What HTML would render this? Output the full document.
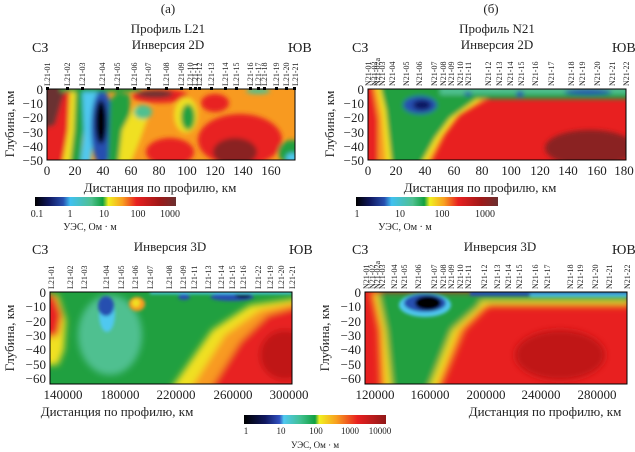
<!DOCTYPE html>
<html><head><meta charset="utf-8"><style>
html,body{margin:0;padding:0;background:#fff}
svg{display:block;font-family:"Liberation Serif",serif}
</style></head><body>
<svg width="635" height="452" viewBox="0 0 635 452" xmlns="http://www.w3.org/2000/svg">
<defs>
<filter id="b3" x="-50%" y="-50%" width="200%" height="200%"><feGaussianBlur stdDeviation="2.5"/></filter>
<filter id="b2" x="-50%" y="-50%" width="200%" height="200%"><feGaussianBlur stdDeviation="1.5"/></filter>
<filter id="b4" x="-50%" y="-50%" width="200%" height="200%"><feGaussianBlur stdDeviation="3.5"/></filter>
<clipPath id="ca"><rect x="47" y="89" width="248" height="71"/></clipPath>
<clipPath id="cb"><rect x="368" y="89" width="258" height="71"/></clipPath>
<clipPath id="cc"><rect x="50" y="292" width="242" height="92"/></clipPath>
<clipPath id="cd"><rect x="365" y="292" width="262" height="92"/></clipPath>
<linearGradient id="g2a"><stop offset="0" stop-color="#000"/><stop offset=".1" stop-color="#101860"/><stop offset=".2" stop-color="#2850b0"/><stop offset=".25" stop-color="#40c0f0"/><stop offset=".4" stop-color="#50c090"/><stop offset=".48" stop-color="#10a040"/><stop offset=".52" stop-color="#f0f020"/><stop offset=".62" stop-color="#f8a020"/><stop offset=".72" stop-color="#e82020"/><stop offset=".88" stop-color="#a01818"/><stop offset="1" stop-color="#6a3030"/></linearGradient>
<linearGradient id="g3"><stop offset="0" stop-color="#000"/><stop offset=".15" stop-color="#101860"/><stop offset=".25" stop-color="#3050c0"/><stop offset=".28" stop-color="#50c8f0"/><stop offset=".4" stop-color="#40c090"/><stop offset=".5" stop-color="#10a040"/><stop offset=".53" stop-color="#f0f020"/><stop offset=".65" stop-color="#f8a020"/><stop offset=".8" stop-color="#e82020"/><stop offset="1" stop-color="#901818"/></linearGradient>
</defs>

<!-- ===== Panel a (2D L21) ===== -->
<g clip-path="url(#ca)">
<rect x="40" y="80" width="270" height="90" fill="#f89a20"/>
<g filter="url(#b3)">
<polygon points="40,85 75,85 72,100 70,120 75,170 40,170" fill="#e82020"/>
<polygon points="40,85 68,85 62,100 55,125 40,130" fill="#6a3030"/>
<polygon points="70,85 84,85 80,110 75,135 72,165 62,165 68,130" fill="#f0e020"/>
<polygon points="76,85 90,85 88,110 82,140 80,165 70,165 74,130" fill="#20a040"/>
<polygon points="82,88 98,88 96,120 90,165 80,165 84,130" fill="#50c8f0"/>
<ellipse cx="102" cy="128" rx="11" ry="38" fill="#2850b0"/>
<ellipse cx="101" cy="122" rx="6" ry="22" fill="#000"/>
<polygon points="110,100 118,92 130,95 130,120 125,165 108,165" fill="#20a040"/>
<polygon points="122,130 135,105 150,112 140,140 130,165 118,165" fill="#f0e020"/>
<ellipse cx="143" cy="112" rx="9" ry="7" fill="#50c090"/>
<rect x="60" y="86" width="80" height="6" fill="#20a040"/>
<ellipse cx="160" cy="96" rx="28" ry="7" fill="#e82020"/>
<ellipse cx="155" cy="94" rx="18" ry="4" fill="#6a3030"/>
<ellipse cx="170" cy="152" rx="24" ry="14" fill="#e82020"/>
<ellipse cx="186" cy="115" rx="12" ry="18" fill="#f0e020"/>
<ellipse cx="188" cy="117" rx="7" ry="13" fill="#20a040"/>
<ellipse cx="215" cy="103" rx="14" ry="9" fill="#e82020"/>
<ellipse cx="240" cy="140" rx="42" ry="26" fill="#e82020"/>
<ellipse cx="235" cy="152" rx="22" ry="14" fill="#8a2020"/>
<ellipse cx="292" cy="152" rx="14" ry="12" fill="#20a040"/>
<ellipse cx="292" cy="158" rx="6" ry="5" fill="#50c8f0"/>
<ellipse cx="258" cy="91" rx="12" ry="3" fill="#50c090"/>
</g>
</g>
<rect x="47" y="89" width="248" height="71" fill="none" stroke="#000" stroke-width="1"/>

<!-- ===== Panel b (2D N21) ===== -->
<g clip-path="url(#cb)">
<rect x="360" y="80" width="270" height="90" fill="#e82020"/>
<g filter="url(#b3)">
<polygon points="360,85 372,85 380,110 385,165 360,165" fill="#e82020"/>
<polygon points="372,85 500,85 490,98 460,115 445,135 430,165 378,165 378,120" fill="#f89a20"/>
<polygon points="376,85 495,85 480,100 455,118 440,138 425,165 386,165 382,115" fill="#f0e020"/>
<polygon points="380,85 490,85 475,100 450,118 435,138 420,165 392,165 386,110" fill="#20a040"/>
<ellipse cx="420" cy="105" rx="17" ry="9" fill="#2850b0"/>
<ellipse cx="422" cy="105" rx="9" ry="5" fill="#101860"/>
<rect x="440" y="86" width="190" height="9" fill="#50c090"/>
<rect x="470" y="94" width="160" height="5" fill="#20a040"/>
<ellipse cx="590" cy="148" rx="45" ry="18" fill="#8a2020"/>
<ellipse cx="588" cy="92" rx="24" ry="3" fill="#2850b0"/>
<ellipse cx="520" cy="94" rx="4" ry="3" fill="#2850b0"/>
<ellipse cx="468" cy="94" rx="4" ry="2" fill="#2850b0"/>
</g>
</g>
<rect x="368" y="89" width="258" height="71" fill="none" stroke="#000" stroke-width="1"/>

<!-- ===== Panel c (3D L21) ===== -->
<g clip-path="url(#cc)">
<rect x="40" y="280" width="260" height="110" fill="#20a040"/>
<g filter="url(#b4)">
<ellipse cx="110" cy="335" rx="32" ry="40" fill="#50c090"/>
<polygon points="170,390 212,330 250,305 300,298 300,390" fill="#f0e020"/>
<polygon points="190,390 225,335 260,310 300,302 300,390" fill="#f89a20"/>
<polygon points="210,390 240,342 268,315 300,306 300,390" fill="#e82020"/>
<ellipse cx="285" cy="355" rx="25" ry="25" fill="#c01818"/>
<polygon points="40,292 58,295 66,320 64,350 58,365 40,365" fill="#f0e020"/>
<polygon points="40,292 55,296 62,315 58,335 40,340" fill="#e82020"/>
</g>
<g filter="url(#b2)">
<ellipse cx="107" cy="314" rx="8" ry="18" fill="#50c8f0"/>
<ellipse cx="106" cy="306" rx="8" ry="10" fill="#2850b0"/>
<ellipse cx="137" cy="304" rx="8" ry="7" fill="#f89a20"/>
<ellipse cx="136" cy="303" rx="4" ry="4" fill="#f0e020"/>
<ellipse cx="184" cy="297" rx="6" ry="3" fill="#2850b0"/>
<ellipse cx="232" cy="297" rx="22" ry="4" fill="#2850b0"/>
<ellipse cx="243" cy="295" rx="8" ry="3" fill="#000"/>
<rect x="150" y="291" width="142" height="3" fill="#50c8f0"/>
</g>
</g>
<rect x="50" y="292" width="242" height="92" fill="none" stroke="#000" stroke-width="1"/>

<!-- ===== Panel d (3D N21) ===== -->
<g clip-path="url(#cd)">
<rect x="360" y="280" width="270" height="110" fill="#e82020"/>
<g filter="url(#b4)">
<polygon points="370,292 500,292 490,305 465,330 440,390 380,390 378,330" fill="#f89a20"/>
<polygon points="374,292 498,292 485,305 458,330 435,390 386,390 382,330" fill="#f0e020"/>
<polygon points="378,292 495,292 480,305 452,330 428,390 392,390 386,330" fill="#20a040"/>
<rect x="480" y="288" width="150" height="14" fill="#20a040"/>
<rect x="480" y="301" width="150" height="5" fill="#f0e020"/>
<ellipse cx="560" cy="355" rx="45" ry="25" fill="#c01818"/>
</g>
<g filter="url(#b2)">
<ellipse cx="425" cy="305" rx="26" ry="12" fill="#50c8f0"/>
<ellipse cx="425" cy="303" rx="21" ry="9" fill="#2850b0"/>
<ellipse cx="428" cy="303" rx="13" ry="7" fill="#000"/>
<rect x="470" y="291" width="160" height="5" fill="#2850b0"/>
<rect x="530" y="294" width="100" height="3" fill="#50c8f0"/>
</g>
</g>
<rect x="365" y="292" width="262" height="92" fill="none" stroke="#000" stroke-width="1"/>

<!-- ===== Text ===== -->
<g font-size="13" fill="#222">
<text x="168" y="13" text-anchor="middle">(а)</text>
<text x="168" y="33" text-anchor="middle">Профиль L21</text>
<text x="168" y="49" text-anchor="middle">Инверсия 2D</text>
<text x="32" y="52" font-size="14">СЗ</text>
<text x="288" y="52" font-size="14">ЮВ</text>

<text x="491" y="13" text-anchor="middle">(б)</text>
<text x="497" y="33" text-anchor="middle">Профиль N21</text>
<text x="497" y="49" text-anchor="middle">Инверсия 2D</text>
<text x="352" y="52" font-size="14">СЗ</text>
<text x="612" y="52" font-size="14">ЮВ</text>

<text x="170" y="251" text-anchor="middle">Инверсия 3D</text>
<text x="32" y="254" font-size="14">СЗ</text>
<text x="289" y="254" font-size="14">ЮВ</text>
<text x="500" y="251" text-anchor="middle">Инверсия 3D</text>
<text x="352" y="254" font-size="14">СЗ</text>
<text x="612" y="254" font-size="14">ЮВ</text>
</g>

<!-- axes a -->
<g font-size="13" fill="#222">
<g text-anchor="end">
<text x="43" y="94">0</text><text x="43" y="108">−10</text><text x="43" y="122">−20</text><text x="43" y="137">−30</text><text x="43" y="151">−40</text><text x="43" y="165">−50</text>
</g>
<g text-anchor="middle">
<text x="47" y="175">0</text><text x="75" y="175">20</text><text x="103" y="175">40</text><text x="131" y="175">60</text><text x="159" y="175">80</text><text x="187" y="175">100</text><text x="215" y="175">120</text><text x="243" y="175">140</text><text x="271" y="175">160</text>
</g>
<text x="160" y="192" text-anchor="middle">Дистанция по профилю, км</text>
<text transform="translate(14,124) rotate(-90)" text-anchor="middle">Глубина, км</text>
</g>
<!-- axes b -->
<g font-size="13" fill="#222">
<g text-anchor="end">
<text x="364" y="94">0</text><text x="364" y="108">−10</text><text x="364" y="122">−20</text><text x="364" y="137">−30</text><text x="364" y="151">−40</text><text x="364" y="165">−50</text>
</g>
<g text-anchor="middle">
<text x="368" y="175">0</text><text x="396" y="175">20</text><text x="425" y="175">40</text><text x="454" y="175">60</text><text x="482" y="175">80</text><text x="511" y="175">100</text><text x="540" y="175">120</text><text x="568" y="175">140</text><text x="597" y="175">160</text><text x="624" y="175">180</text>
</g>
<text x="480" y="192" text-anchor="middle">Дистанция по профилю, км</text>
<text transform="translate(334,124) rotate(-90)" text-anchor="middle">Глубина, км</text>
</g>
<!-- axes c -->
<g font-size="13" fill="#222">
<g text-anchor="end">
<text x="46" y="297">0</text><text x="46" y="311">−10</text><text x="46" y="326">−20</text><text x="46" y="340">−30</text><text x="46" y="354">−40</text><text x="46" y="369">−50</text><text x="46" y="383">−60</text>
</g>
<g text-anchor="middle">
<text x="63" y="399">140000</text><text x="120" y="399">180000</text><text x="176" y="399">220000</text><text x="233" y="399">260000</text><text x="289" y="399">300000</text>
</g>
<text x="117" y="416" text-anchor="middle">Дистанция по профилю, км</text>
<text transform="translate(14,338) rotate(-90)" text-anchor="middle">Глубина, км</text>
</g>
<!-- axes d -->
<g font-size="13" fill="#222">
<g text-anchor="end">
<text x="361" y="297">0</text><text x="361" y="311">−10</text><text x="361" y="326">−20</text><text x="361" y="340">−30</text><text x="361" y="354">−40</text><text x="361" y="369">−50</text><text x="361" y="383">−60</text>
</g>
<g text-anchor="middle">
<text x="375" y="399">120000</text><text x="430" y="399">160000</text><text x="486" y="399">200000</text><text x="541" y="399">240000</text><text x="597" y="399">280000</text>
</g>
<text x="545" y="416" text-anchor="middle">Дистанция по профилю, км</text>
<text transform="translate(329,338) rotate(-90)" text-anchor="middle">Глубина, км</text>
</g>

<!-- colorbars -->
<rect x="35" y="197" width="141" height="9" fill="url(#g2a)"/>
<g font-size="10" fill="#222" text-anchor="middle">
<text x="37" y="217">0.1</text><text x="70" y="217">1</text><text x="104" y="217">10</text><text x="138" y="217">100</text><text x="170" y="217">1000</text>
<text x="90" y="230">УЭС, Ом · м</text>
</g>
<rect x="356" y="197" width="142" height="9" fill="url(#g2a)"/>
<g font-size="10" fill="#222" text-anchor="middle">
<text x="357" y="217">1</text><text x="400" y="217">10</text><text x="442" y="217">100</text><text x="485" y="217">1000</text>
<text x="405" y="230">УЭС, Ом · м</text>
</g>
<rect x="244" y="415" width="142" height="9" fill="url(#g3)"/>
<g font-size="9" fill="#222" text-anchor="middle">
<text x="246" y="434">1</text><text x="281" y="434">10</text><text x="316" y="434">100</text><text x="350" y="434">1000</text><text x="380" y="434">10000</text>
<text x="315" y="448">УЭС, Ом · м</text>
</g>

<!-- markers -->
<g fill="#000">
<rect x="46" y="87" width="3" height="3"/><rect x="66" y="87" width="3" height="3"/><rect x="81" y="87" width="3" height="3"/><rect x="101" y="87" width="3" height="3"/><rect x="116" y="87" width="3" height="3"/><rect x="133" y="87" width="3" height="3"/><rect x="147" y="87" width="3" height="3"/><rect x="165" y="87" width="3" height="3"/><rect x="180" y="87" width="3" height="3"/><rect x="189" y="87" width="3" height="3"/><rect x="194" y="87" width="3" height="3"/><rect x="198" y="87" width="3" height="3"/><rect x="210" y="87" width="3" height="3"/><rect x="224" y="87" width="3" height="3"/><rect x="235" y="87" width="3" height="3"/><rect x="249" y="87" width="3" height="3"/><rect x="257" y="87" width="3" height="3"/><rect x="263" y="87" width="3" height="3"/><rect x="275" y="87" width="3" height="3"/><rect x="285" y="87" width="3" height="3"/><rect x="293" y="87" width="3" height="3"/>
</g>

<!-- station labels -->
<g font-size="8" fill="#222">
<text transform="translate(50,86) rotate(-90)">L21-01</text>
<text transform="translate(70,86) rotate(-90)">L21-02</text>
<text transform="translate(85,86) rotate(-90)">L21-03</text>
<text transform="translate(105,86) rotate(-90)">L21-04</text>
<text transform="translate(120,86) rotate(-90)">L21-05</text>
<text transform="translate(137,86) rotate(-90)">L21-06</text>
<text transform="translate(151,86) rotate(-90)">L21-07</text>
<text transform="translate(169,86) rotate(-90)">L21-08</text>
<text transform="translate(184,86) rotate(-90)">L21-09</text>
<text transform="translate(193,86) rotate(-90)">L21-10</text>
<text transform="translate(198,86) rotate(-90)">L21-11</text>
<text transform="translate(202,86) rotate(-90)">L21-12</text>
<text transform="translate(214,86) rotate(-90)">L21-13</text>
<text transform="translate(228,86) rotate(-90)">L21-14</text>
<text transform="translate(239,86) rotate(-90)">L21-15</text>
<text transform="translate(253,86) rotate(-90)">L21-16</text>
<text transform="translate(261,86) rotate(-90)">L21-17</text>
<text transform="translate(267,86) rotate(-90)">L21-18</text>
<text transform="translate(279,86) rotate(-90)">L21-19</text>
<text transform="translate(289,86) rotate(-90)">L21-20</text>
<text transform="translate(298,86) rotate(-90)">L21-21</text>

<text transform="translate(371,86) rotate(-90)">N21-01</text>
<text transform="translate(377,86) rotate(-90)">N21-02</text>
<text transform="translate(380,86) rotate(-90)">N21-02a</text>
<text transform="translate(385,86) rotate(-90)">N21-03</text>
<text transform="translate(395,86) rotate(-90)">N21-04</text>
<text transform="translate(409,86) rotate(-90)">N21-05</text>
<text transform="translate(422,86) rotate(-90)">N21-06</text>
<text transform="translate(437,86) rotate(-90)">N21-07</text>
<text transform="translate(446,86) rotate(-90)">N21-08</text>
<text transform="translate(454,86) rotate(-90)">N21-09</text>
<text transform="translate(463,86) rotate(-90)">N21-10</text>
<text transform="translate(471,86) rotate(-90)">N21-11</text>
<text transform="translate(491,86) rotate(-90)">N21-12</text>
<text transform="translate(502,86) rotate(-90)">N21-13</text>
<text transform="translate(513,86) rotate(-90)">N21-14</text>
<text transform="translate(524,86) rotate(-90)">N21-15</text>
<text transform="translate(538,86) rotate(-90)">N21-16</text>
<text transform="translate(554,86) rotate(-90)">N21-17</text>
<text transform="translate(574,86) rotate(-90)">N21-18</text>
<text transform="translate(585,86) rotate(-90)">N21-19</text>
<text transform="translate(600,86) rotate(-90)">N21-20</text>
<text transform="translate(615,86) rotate(-90)">N21-21</text>
<text transform="translate(629,86) rotate(-90)">N21-22</text>

<text transform="translate(54,289) rotate(-90)">L21-01</text>
<text transform="translate(73,289) rotate(-90)">L21-02</text>
<text transform="translate(87,289) rotate(-90)">L21-03</text>
<text transform="translate(109,289) rotate(-90)">L21-04</text>
<text transform="translate(124,289) rotate(-90)">L21-05</text>
<text transform="translate(138,289) rotate(-90)">L21-06</text>
<text transform="translate(153,289) rotate(-90)">L21-07</text>
<text transform="translate(172,289) rotate(-90)">L21-08</text>
<text transform="translate(186,289) rotate(-90)">L21-09</text>
<text transform="translate(197,289) rotate(-90)">L21-11</text>
<text transform="translate(211,289) rotate(-90)">L21-13</text>
<text transform="translate(224,289) rotate(-90)">L21-14</text>
<text transform="translate(235,289) rotate(-90)">L21-15</text>
<text transform="translate(246,289) rotate(-90)">L21-16</text>
<text transform="translate(261,289) rotate(-90)">L21-22</text>
<text transform="translate(273,289) rotate(-90)">L21-19</text>
<text transform="translate(284,289) rotate(-90)">L21-20</text>
<text transform="translate(295,289) rotate(-90)">L21-21</text>

<text transform="translate(369,289) rotate(-90)">N21-01</text>
<text transform="translate(375,289) rotate(-90)">N21-02</text>
<text transform="translate(380,289) rotate(-90)">N21-02a</text>
<text transform="translate(385,289) rotate(-90)">N21-03</text>
<text transform="translate(397,289) rotate(-90)">N21-04</text>
<text transform="translate(407,289) rotate(-90)">N21-05</text>
<text transform="translate(421,289) rotate(-90)">N21-06</text>
<text transform="translate(437,289) rotate(-90)">N21-07</text>
<text transform="translate(446,289) rotate(-90)">N21-08</text>
<text transform="translate(454,289) rotate(-90)">N21-09</text>
<text transform="translate(463,289) rotate(-90)">N21-10</text>
<text transform="translate(471,289) rotate(-90)">N21-11</text>
<text transform="translate(487,289) rotate(-90)">N21-12</text>
<text transform="translate(500,289) rotate(-90)">N21-13</text>
<text transform="translate(511,289) rotate(-90)">N21-14</text>
<text transform="translate(522,289) rotate(-90)">N21-15</text>
<text transform="translate(538,289) rotate(-90)">N21-16</text>
<text transform="translate(550,289) rotate(-90)">N21-17</text>
<text transform="translate(573,289) rotate(-90)">N21-18</text>
<text transform="translate(583,289) rotate(-90)">N21-19</text>
<text transform="translate(598,289) rotate(-90)">N21-20</text>
<text transform="translate(612,289) rotate(-90)">N21-21</text>
<text transform="translate(630,289) rotate(-90)">N21-22</text>
</g>
</svg>
</body></html>
